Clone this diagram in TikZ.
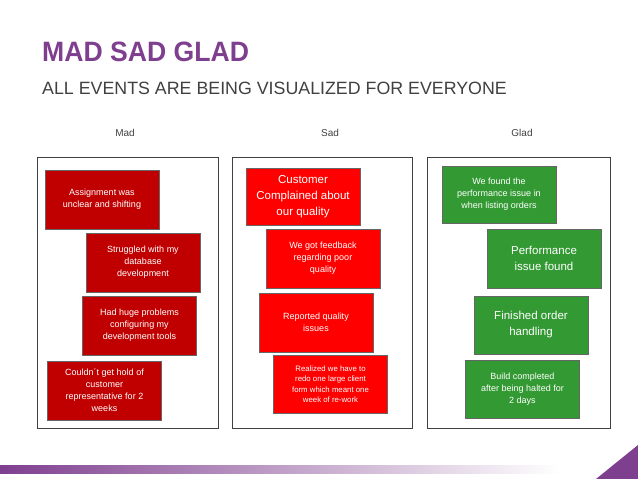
\documentclass[tikz,border=0pt]{standalone}
\usepackage{fontspec}
\setmainfont{Liberation Sans}
\definecolor{madred}{HTML}{C00000}
\definecolor{sadred}{HTML}{FF0000}
\definecolor{gladgreen}{HTML}{339933}
\definecolor{slidepurple}{HTML}{7F3F8F}
\begin{document}
\begin{tikzpicture}[x=1pt,y=-1pt,
    panel/.style={draw=black!75,line width=1pt},
    card/.style={draw=black!60,line width=0.6pt,text=white,align=center,
      minimum width=114,inner sep=1pt},
    mad/.style={card,fill=madred,font=\fontsize{9}{12}\selectfont},
    sad/.style={card,fill=sadred,font=\fontsize{9}{12}\selectfont},
    glad/.style={card,fill=gladgreen,font=\fontsize{9}{12}\selectfont},
    big/.style={font=\fontsize{11.5}{16}\selectfont},
    tiny/.style={font=\fontsize{7.8}{10.5}\selectfont},
    head/.style={font=\fontsize{10}{12}\selectfont,text=black!75}]
  \useasboundingbox (0,0) rectangle (638,479);
  % title
  \node[anchor=west,text=slidepurple,font=\fontsize{28}{30}\bfseries\selectfont,xscale=0.95,inner sep=0pt] (title) at (42,52) {MAD SAD GLAD};
  \node[anchor=west,text=black!75,font=\fontsize{17.8}{20}\selectfont,inner sep=0pt] (sub) at (42,88) {ALL EVENTS ARE BEING VISUALIZED FOR EVERYONE};
  % columns
  \node[head] (hmad) at (125,133) {Mad};
  \node[head] (hsad) at (330,133) {Sad};
  \node[head] (hglad) at (522,133) {Glad};
  \draw[panel] (37,157) rectangle (218,428);
  \draw[panel] (232,157) rectangle (412,428);
  \draw[panel] (427,157) rectangle (610,428);
  % mad
  \node[mad,minimum height=59] (m1) at (102,199.5) {Assignment was\\unclear and shifting};
  \node[mad,minimum height=59] (m2) at (143,262.5) {Struggled with my\\database\\development};
  \node[mad,minimum height=59] (m3) at (139.5,325.5) {Had huge problems\\configuring my\\development tools};
  \node[mad,minimum height=59] (m4) at (104.5,390.5) {Couldn´t get hold of\\customer\\representative for 2\\weeks};
  % sad
  \node[sad,big,minimum height=57] (s1) at (303,196.5) {Customer\\Complained about\\our quality};
  \node[sad,minimum height=59] (s2) at (323,258.5) {We got feedback\\regarding poor\\quality};
  \node[sad,minimum height=59] (s3) at (316,322.5) {Reported quality\\issues};
  \node[sad,tiny,minimum height=58] (s4) at (330.5,384) {Realized we have to\\redo one large client\\form which meant one\\week of re-work};
  % glad
  \node[glad,minimum height=57] (g1) at (499,194.5) {We found the\\performance issue in\\when listing orders};
  \node[glad,big,minimum height=59] (g2) at (544,258.5) {Performance\\issue found};
  \node[glad,big,minimum height=58] (g3) at (531,325) {Finished order\\handling};
  \node[glad,minimum height=58] (g4) at (522.5,389) {Build completed\\after being halted for\\2 days};
  % footer
  \shade[left color=slidepurple,right color=white] (0,465) rectangle (560,473);
  \fill[slidepurple] (638,445) -- (638,479) -- (596,479) -- cycle;
\end{tikzpicture}
\end{document}
